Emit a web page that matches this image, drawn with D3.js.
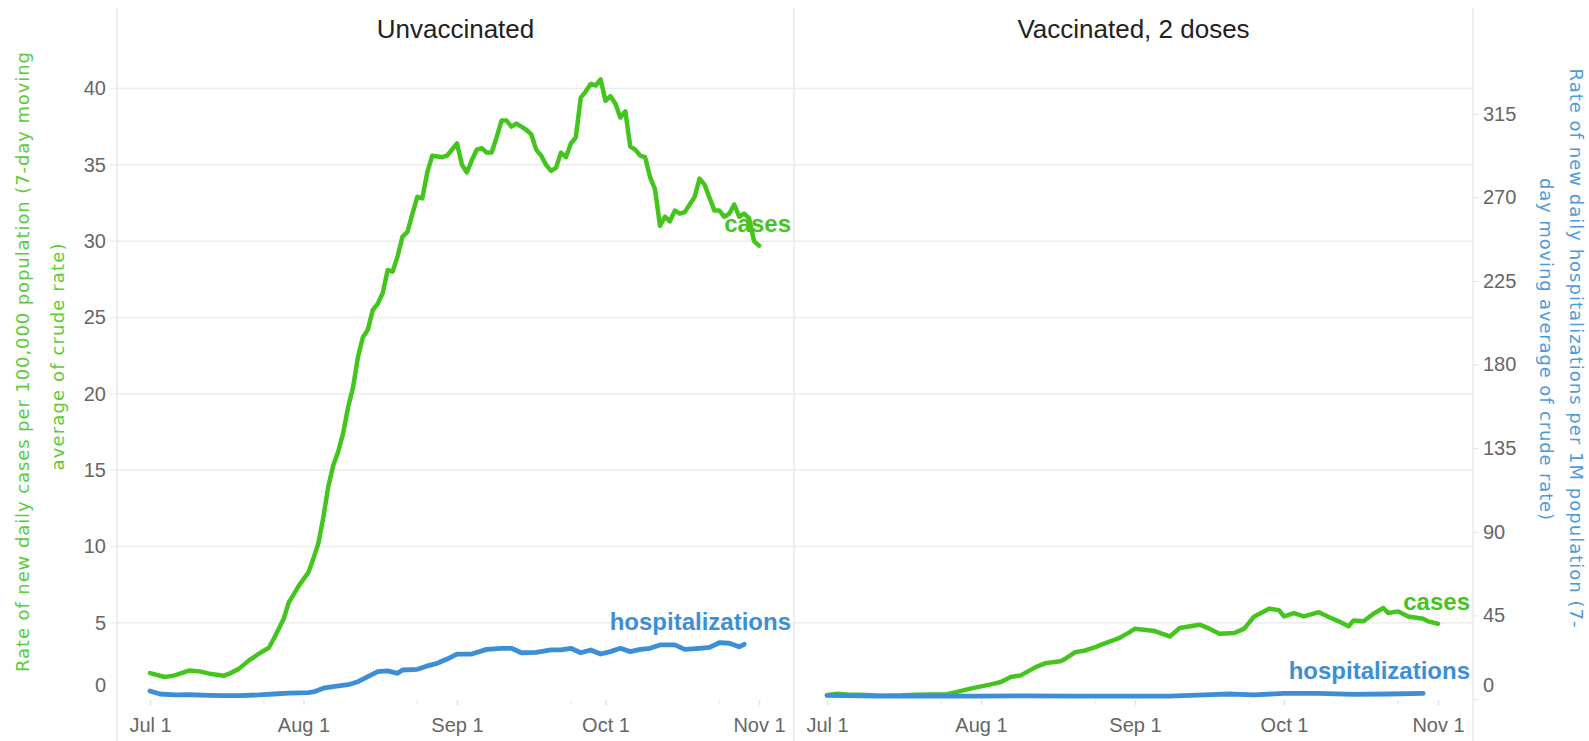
<!DOCTYPE html>
<html>
<head>
<meta charset="utf-8">
<script src="https://cdn.jsdelivr.net/npm/d3@7"></script>
<style>
  body { margin: 0; background: #fff; }
  svg { display: block; }
  text { font-family: "Liberation Sans", Arial, sans-serif; }
</style>
</head>
<body>
<svg id="chart" width="1589" height="741"></svg>
<script>
// ---- data ----
const startDate = new Date(2021, 6, 1); // Jul 1, day offsets below count from here

const panelTitles = ["Unvaccinated", "Vaccinated, 2 doses"];

// unvaccinated, cases per 100,000
const unvaxCaseDays = [0,3,5,8,10,12,15,16,18,20,22,24,25,27,28,30,32,33,34,35,36,37,38,39,40,41,42,43,44,45,46,47,48,49,50,51,52,53,54,55,56,57,59,60,62,63,64,65,66,67,68,69,70,71,72,73,74,75,76,77,78,79,80,81,82,83,84,85,86,87,88,89,90,91,92,93,94,95,96,97,98,99,100,101,102,103,104,105,106,107,108,110,111,112,114,115,116,117,118,119,120,121,122,123];
const unvaxCases = [1.70,1.44,1.55,1.87,1.81,1.66,1.53,1.66,1.99,2.53,2.97,3.36,3.95,5.26,6.3,7.4,8.3,9.2,10.2,11.9,13.9,15.3,16.2,17.4,19.1,20.4,22.4,23.7,24.2,25.5,25.9,26.6,28.1,28.0,29.0,30.3,30.6,31.8,32.9,32.8,34.5,35.6,35.5,35.6,36.4,35.0,34.5,35.3,36.0,36.1,35.8,35.8,36.8,37.9,37.9,37.5,37.7,37.5,37.3,37.0,36.0,35.6,35.0,34.6,34.8,35.8,35.5,36.4,36.8,39.4,39.8,40.3,40.2,40.6,39.2,39.5,39.0,38.1,38.5,36.2,36.0,35.6,35.5,34.2,33.4,31.0,31.6,31.3,32.0,31.8,31.9,32.9,34.1,33.7,32.0,32.0,31.6,31.8,32.4,31.6,31.8,31.5,30.0,29.7];

// unvaccinated, hospitalizations per 1M
const unvaxHospDays = [0,2,5,8,12,15,18,22,25,28,32,33,35,37,40,42,44,46,48,50,51,54,56,58,60,62,65,68,71,73,75,78,81,83,85,87,89,91,93,95,97,99,101,103,106,108,111,113,115,117,119,120];
const unvaxHosp = [4.3,2.7,2.2,2.3,2.0,1.8,1.8,2.2,2.7,3.2,3.4,3.8,5.8,6.6,7.7,9.3,12.0,14.7,15.1,13.8,15.6,16.0,17.8,19.2,21.5,24.2,24.2,26.7,27.3,27.3,24.9,25.1,26.4,26.4,27.3,24.9,26.4,24.2,25.5,27.3,25.5,26.7,27.3,29.1,29.1,26.7,27.3,27.8,30.3,30.0,28.1,29.4];

// vaccinated, cases per 100,000
const vaxCaseDays = [0,2,4,8,11,15,18,21,24,26,28,31,33,35,37,39,42,44,47,48,50,52,54,56,58,59,61,62,66,69,71,75,77,79,82,84,86,89,91,92,94,96,99,101,103,105,106,108,110,112,113,115,117,120,121,123];
const vaxCases = [0.24,0.35,0.30,0.26,0.22,0.24,0.28,0.30,0.30,0.45,0.61,0.83,0.96,1.11,1.44,1.55,2.09,2.35,2.48,2.64,3.07,3.18,3.40,3.66,3.89,4.02,4.40,4.61,4.45,4.10,4.65,4.87,4.61,4.28,4.32,4.61,5.41,5.92,5.81,5.41,5.63,5.41,5.69,5.37,5.09,4.76,5.15,5.09,5.59,5.96,5.63,5.74,5.41,5.26,5.09,4.93];

// vaccinated, hospitalizations per 1M
const vaxHospDays = [0,10,20,30,40,50,59,69,76,81,86,92,99,106,113,120];
const vaxHosp = [2.0,1.6,1.6,1.6,1.7,1.6,1.6,1.6,2.2,2.7,2.2,3.0,3.0,2.5,2.7,3.0];

const caseTicks = [0, 5, 10, 15, 20, 25, 30, 35, 40];
const hospTicks = [0, 45, 90, 135, 180, 225, 270, 315];
const monthTicks = ["2021-07-01", "2021-08-01", "2021-09-01", "2021-10-01", "2021-11-01"];
const minorTicks = ["2021-07-24", "2021-08-24", "2021-09-24", "2021-10-24"];

const leftTitle = ["Rate of new daily cases per 100,000 population (7-day moving", "average of crude rate)"];
const rightTitle = ["Rate of new daily hospitalizations per 1M population (7-", "day moving average of crude rate)"];

// ---- layout ----
const W = 1589, H = 741;
const plotTop = 58, plotBottom = 699;
const edges = [117, 794, 1473];   // left axis, panel divider, right axis
const green = "#43c51d", blue = "#3c8fd6";
const tickGrey = "#666";

const parseDay = d3.timeParse("%Y-%m-%d");
const toPoints = (days, vals) => days.map((d, i) => ({ date: d3.timeDay.offset(startDate, d), v: vals[i] }));

const panels = [
  { title: panelTitles[0], cases: toPoints(unvaxCaseDays, unvaxCases), hosp: toPoints(unvaxHospDays, unvaxHosp) },
  { title: panelTitles[1], cases: toPoints(vaxCaseDays, vaxCases), hosp: toPoints(vaxHospDays, vaxHosp) }
];

const svg = d3.select("#chart");
svg.append("rect").attr("width", W).attr("height", H).attr("fill", "#fff");

const yCases = d3.scaleLinear().domain([0, 42]).range([plotBottom, plotTop]);
const yHosp = d3.scaleLinear().domain([0, 345]).range([plotBottom, plotTop]);

// horizontal gridlines (left axis values), across both panels
svg.append("g").selectAll("line")
  .data(caseTicks.filter(d => d > 0))
  .join("line")
    .attr("x1", edges[0] - 7).attr("x2", edges[2])
    .attr("y1", d => yCases(d)).attr("y2", d => yCases(d))
    .attr("stroke", "#ececec").attr("stroke-width", 1.5);

// vertical frame lines
svg.append("g").selectAll("line")
  .data(edges)
  .join("line")
    .attr("x1", d => d).attr("x2", d => d)
    .attr("y1", 8).attr("y2", H)
    .attr("stroke", "#e9e9e9").attr("stroke-width", 1.5);

// left axis (cases)
const leftAxis = svg.append("g")
  .attr("transform", `translate(${edges[0]},0)`)
  .call(d3.axisLeft(yCases).tickValues(caseTicks).tickSize(0).tickPadding(11));
leftAxis.select(".domain").remove();

// right axis (hospitalizations)
const rightAxis = svg.append("g")
  .attr("transform", `translate(${edges[2]},0)`)
  .call(d3.axisRight(yHosp).tickValues(hospTicks).tickSize(6).tickPadding(4));
rightAxis.select(".domain").remove();
rightAxis.selectAll(".tick line").attr("stroke", "#e3e3e3");

[leftAxis, rightAxis].forEach(ax => {
  ax.selectAll("text").attr("fill", tickGrey).style("font-size", "20px");
  // bottom label is pushed up inside the pane, as the original does
  ax.selectAll(".tick").filter(d => d === 0).select("text").attr("y", -14);
});

// panels
panels.forEach((p, i) => {
  const x0 = edges[i], x1 = edges[i + 1];
  const x = d3.scaleTime()
    .domain([parseDay(monthTicks[0]), parseDay(monthTicks[monthTicks.length - 1])])
    .range([x0 + 33, x1 - 35]);

  svg.append("text")
    .attr("x", (x0 + x1) / 2).attr("y", 38)
    .attr("text-anchor", "middle")
    .attr("fill", "#222")
    .style("font-size", "26px")
    .text(p.title);

  const xAxis = svg.append("g")
    .attr("transform", `translate(0,${plotBottom + 1})`)
    .call(d3.axisBottom(x).tickValues(monthTicks.map(parseDay))
      .tickFormat(d3.timeFormat("%b %-d")).tickSize(5).tickPadding(13));
  xAxis.select(".domain").remove();
  xAxis.selectAll(".tick line").attr("stroke", "#e3e3e3").attr("stroke-width", 1.5);
  xAxis.selectAll("text").attr("fill", tickGrey).style("font-size", "20px");

  svg.append("g").selectAll("line")
    .data(minorTicks.map(parseDay))
    .join("line")
      .attr("x1", d => x(d)).attr("x2", d => x(d))
      .attr("y1", plotBottom + 1).attr("y2", plotBottom + 5)
      .attr("stroke", "#eeeeee").attr("stroke-width", 1.5);

  const series = [
    { data: p.cases, y: yCases, color: green, width: 4.5, label: "cases" },
    { data: p.hosp, y: yHosp, color: blue, width: 4.8, label: "hospitalizations" }
  ];

  series.forEach(s => {
    svg.append("path")
      .datum(s.data)
      .attr("fill", "none")
      .attr("stroke", s.color)
      .attr("stroke-width", s.width)
      .attr("stroke-linejoin", "round")
      .attr("stroke-linecap", "round")
      .attr("d", d3.line().x(d => x(d.date)).y(d => s.y(d.v)));
  });

  // end-of-line labels, centred above the last point but kept inside the pane
  series.forEach(s => {
    const last = s.data[s.data.length - 1];
    const t = svg.append("text")
      .attr("text-anchor", "middle")
      .attr("fill", s.color)
      .style("font-size", "24px")
      .style("font-weight", "bold")
      .text(s.label);
    const w = t.node().getComputedTextLength();
    let cx = x(last.date);
    if (cx + w / 2 > x1 - 3) cx = x1 - 3 - w / 2;
    t.attr("x", cx).attr("y", s.y(last.v) - 14);
  });
});

// axis titles
const titleStyle = sel => sel
  .style("font-family", "'DejaVu Sans', sans-serif")
  .style("font-size", "18px")
  .attr("text-anchor", "middle")
  .attr("dominant-baseline", "central")
  .attr("lengthAdjust", "spacing");

const leftTitleSpec = [{ x: 22, y: 362, len: 620 }, { x: 57, y: 357, len: 227 }];
leftTitle.forEach((line, i) => {
  const s = leftTitleSpec[i];
  svg.append("text")
    .call(titleStyle)
    .attr("transform", `translate(${s.x},${s.y}) rotate(-90)`)
    .attr("textLength", s.len)
    .attr("fill", "#5ccb3a")
    .text(line);
});

const rightTitleSpec = [{ x: 1576, y: 348, len: 559 }, { x: 1546, y: 349, len: 342 }];
rightTitle.forEach((line, i) => {
  const s = rightTitleSpec[i];
  svg.append("text")
    .call(titleStyle)
    .attr("transform", `translate(${s.x},${s.y}) rotate(90)`)
    .attr("textLength", s.len)
    .attr("fill", "#4d9bdb")
    .text(line);
});
</script>
</body>
</html>
